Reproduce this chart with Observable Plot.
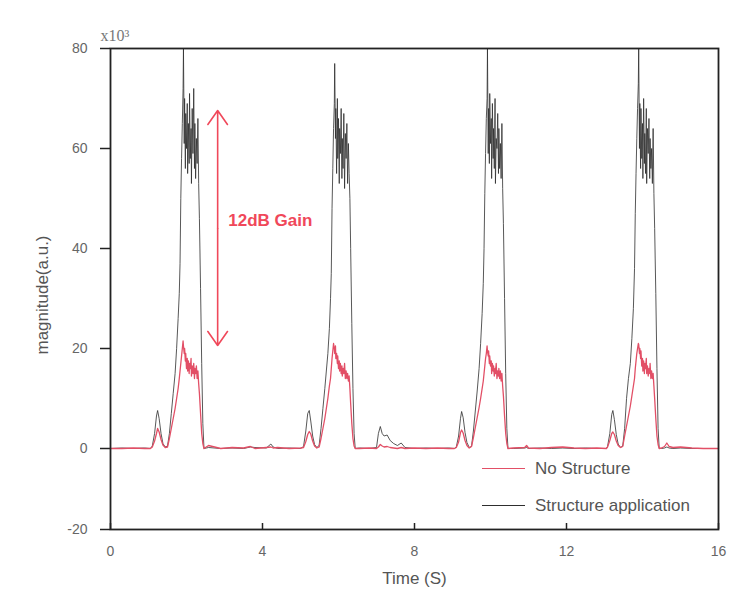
<!DOCTYPE html>
<html><head><meta charset="utf-8">
<script src="https://cdn.jsdelivr.net/npm/d3@7"></script>
<script src="https://cdn.jsdelivr.net/npm/@observablehq/plot@0.6"></script>
<style>
body{margin:0;background:#fff;}
#wrap{position:relative;width:752px;height:610px;font-family:"Liberation Sans",Arial,sans-serif;}
#legend{position:absolute;left:482px;top:450px;color:#555;font-size:17px;}
#legend .item{display:flex;align-items:center;height:37px;}
#legend .swatch{width:43px;height:0;margin-right:10px;}
</style>
</head><body>
<div id="wrap"></div>
<script>
// time (s)
const time = [
  0, 0.3, 0.6, 0.9, 1.05,
  1.10,1.16,1.21,1.24,1.28,1.33,1.38,1.44,1.50,1.55, 1.60,1.65,1.70,1.74,1.78,1.81,1.83,1.85,1.87,1.89,
  1.91,1.92,1.94,1.95,1.97,1.98,2.00,2.02,2.03,2.05, 2.07,2.08,2.10,2.12,2.13,2.15,2.17,2.19,2.21,2.22,
  2.24,2.26,2.28,2.30,2.32,2.34,2.37,2.40,2.43,2.46,
  2.58, 2.9, 3.2, 3.5, 3.68, 3.8, 4.1, 4.22, 4.28, 4.4, 4.7, 5.0,
  5.08,5.14,5.19,5.23,5.27,5.32,5.37,5.43,5.49,5.54, 5.59,5.64,5.68,5.72,5.76,5.79,5.81,5.83,5.85,5.87,
  5.89,5.90,5.92,5.93,5.95,5.97,5.98,6.00,6.02,6.03, 6.05,6.07,6.09,6.10,6.12,6.14,6.16,6.18,6.20,6.22,
  6.24,6.26,6.28,6.30,6.32,6.35,6.38,6.41,6.44,
  6.55, 6.8, 7.0, 7.05, 7.1, 7.15, 7.2, 7.28, 7.36, 7.45, 7.55, 7.65, 7.75, 8.0, 8.3, 8.6, 8.9, 9.05,
  9.10,9.16,9.21,9.24,9.28,9.33,9.38,9.44,9.50,9.55, 9.60,9.65,9.70,9.74,9.78,9.81,9.83,9.85,9.87,9.89,
  9.91,9.92,9.94,9.95,9.97,9.98,10.00,10.02,10.03,10.05, 10.07,10.08,10.10,10.12,10.13,10.15,10.17,10.19,10.21,10.22,
  10.24,10.26,10.28,10.30,10.32,10.34,10.37,10.40,10.43,10.46,
  10.6, 10.9, 10.95, 11.0, 11.3, 11.6, 11.9, 12.2, 12.5, 12.8, 13.05,
  13.08,13.14,13.19,13.22,13.26,13.31,13.36,13.42,13.48,13.53, 13.58,13.63,13.68,13.72,13.76,13.79,13.81,13.83,13.85,13.87,
  13.89,13.90,13.92,13.93,13.95,13.96,13.98,14.00,14.01,14.03, 14.05,14.06,14.08,14.10,14.11,14.13,14.15,14.17,14.19,14.20,
  14.22,14.24,14.26,14.28,14.30,14.32,14.35,14.38,14.41,14.44,
  14.5, 14.58, 14.64, 14.7, 14.8, 15.0, 15.3, 15.6, 16
];
// "Structure application" magnitude (x10^3)
const structureApp = [
  0, 0.1, 0, 0.1, 0,
  0.5,3,6.5,7.6,6,3,1,0.3,0.5,3, 7,11,15,20,26,31,37,50,58,65,
  72,80,61,70,56,67,60,69,55,65, 57,71,58,64,53,68,59,72,56,65,
  54,62,57,66,53,46,32,17,5,0,
  0.2, 0, 0.1, 0, 0.3, 0.2, 0.1, 0.9, 0.3, 0, 0.1, 0,
  0.4,3.5,7,7.6,5.5,2.5,0.8,0.2,0.6,4, 8,12,15.5,19,24,30,35,48,56,64,
  69,77,62,68,55,70,58,66,53,64, 59,68,54,62,56,67,52,63,58,65,
  53,61,55,50,40,25,12,3,0,
  0.1, 0, 0.2, 3, 4.4, 3, 2.5, 2.7, 1.6, 1, 0.6, 1.1, 0.2, 0, 0.1, 0, 0.1, 0,
  0.3,2.5,6,7.4,6.2,3.2,1.2,0.2,0.4,3.5, 7.5,11.5,16,21,27,33,40,51,59,66,
  70,80,59,68,57,71,61,66,54,69, 58,64,56,70,53,62,60,67,55,64,
  56,61,54,65,52,45,30,15,4,0,
  0, 0.1, 0.2, 0, 0.1, 0, 0.1, 0, 0.1, 0, 0,
  0.4,3,6.8,7.6,5.8,2.8,0.9,0.2,0.5,4, 10,14,17,22,28,36,47,55,62,68,
  73,80,60,69,56,68,58,65,54,70, 57,63,55,68,53,64,59,66,54,62,
  56,60,53,64,51,44,31,16,4,0,
  0, 0.1, 0.3, 0.1, 0, 0.1, 0, 0, 0
];
// "No Structure" magnitude (x10^3)
const noStructure = [
  0, 0, 0.1, 0, 0,
  0.3,1.5,3,4,3.3,1.8,0.7,0.2,0.3,2, 4,6,8,10,12,14,15.5,17,18.5,20,
  21.5,20.5,19,20,17.5,19,16,18,15.5,17.5, 15,17,16,18,14.5,16.5,15,17,14,16,
  15,16.5,14,15.5,13,11,7,3,1,0,
  0.6, 0, 0.2, 0.1, 0.4, 0, 0.2, 0.3, 0.1, 0.2, 0, 0.1,
  0.2,1.4,2.8,3.4,2.9,1.5,0.5,0.1,0.3,2, 4,6,8,10,12.5,14,16,18,19.5,21,
  20,19,20.5,18,19,17,18.5,16,17.5,15.5, 17,15,16.5,14.5,16,15,17,14,15.5,14,
  15,13.5,14.5,12,9,5,2,0.5,0,
  0, 0.1, 0, 0.3, 0.8, 0.5, 0.3, 0.4, 0.2, 0.1, 0, 0.2, 0, 0.1, 0, 0.1, 0, 0,
  0.2,1.3,3.2,3.7,3.1,1.6,0.6,0.1,0.4,2.2, 4.2,6.2,8.2,10,12,13.5,15,16.5,18,19,
  20.5,19.5,18.5,19.5,17,18.5,16.5,17.5,15,17, 15.5,16.5,14.5,16,15,17,14,15.5,14.5,16,
  14,15.5,13.5,15,12.5,10.5,6.5,3,1,0,
  0.1, 0.2, 0.6, 0.1, 0, 0.2, 0.3, 0.1, 0, 0.1, 0,
  0.3,1.6,3,3.3,2.8,1.5,0.6,0.2,0.4,2.5, 4.5,6.5,8.5,10.5,12.5,14,16,17.5,19,20,
  21,20.8,19,20,18,19.5,16.5,18,15.5,17.5, 15,17,16,18,15,16.5,14.5,16,15,17,
  14,15.5,14,15,12.5,10,6,2.5,0.8,0,
  0.1, 0.4, 1.1, 0.4, 0.2, 0.3, 0.1, 0, 0
];
const xTicks = [0, 4, 8, 12, 16];
const yTicks = [-20, 0, 20, 40, 60, 80];
const seriesNames = ["No Structure", "Structure application"];
const seriesColors = ["#e24f66", "#2e2e2e"];
// 12 dB gain annotation: arrow between the two peak levels
const gainX = 2.82, gainMid = 44, gainTop = 67.6, gainBottom = 20.6;
const gainLabel = "12dB Gain", gainLabelX = 3.1, gainLabelY = 45.6;
// the original axis is compressed below zero (the -20 tick sits closer to 0)
const negativeCompression = 0.81;

const rowsBlack = time.map((t, i) => ({t, v: structureApp[i]}));
const rowsRed = time.map((t, i) => ({t, v: noStructure[i]}));
const arrows = [{x: gainX, y1: gainMid, y2: gainTop}, {x: gainX, y1: gainMid, y2: gainBottom}];

const font = '"Liberation Sans", Arial, sans-serif';
const chart = Plot.plot({
  width: 752, height: 610,
  marginLeft: 110, marginRight: 34, marginTop: 48, marginBottom: 81,
  style: {fontFamily: font, background: "#fff", color: "#666"},
  x: {domain: [0, 16]},
  y: {domain: [-20 * negativeCompression, 80], transform: v => v < 0 ? v * negativeCompression : v},
  marks: [
    Plot.axisX({ticks: xTicks, tickSize: 0, tickPadding: 17, fontSize: 14, label: null, fill: "#666", tickFormat: d => `${d}`}),
    Plot.tickX(xTicks, {x: d => d, insetTop: 475, stroke: "#222", strokeWidth: 1.5}),
    Plot.axisY(yTicks, {tickSize: 10, tickPadding: 13, fontSize: 14, label: null, stroke: "#222", strokeWidth: 1.5, fill: "#666", tickFormat: d => `${d}`}),
    Plot.line(rowsBlack, {x: "t", y: "v", stroke: seriesColors[1], strokeWidth: 1, strokeOpacity: 0.8}),
    Plot.line(rowsRed, {x: "t", y: "v", stroke: seriesColors[0], strokeWidth: 1.3}),
    Plot.arrow(arrows, {x1: "x", x2: "x", y1: "y1", y2: "y2", stroke: "#f0485a", strokeWidth: 1.6, headLength: 16, headAngle: 70}),
    Plot.text([gainLabel], {x: gainLabelX, y: gainLabelY, text: d => d, textAnchor: "start", fill: "#f0485a", fontSize: 17, fontWeight: "bold"}),
    Plot.frame({stroke: "#222", strokeWidth: 1.8}),
    Plot.text(["Time (S)"], {frameAnchor: "bottom", dy: 49, lineAnchor: "middle", textAnchor: "middle", text: d => d, fontSize: 17, fill: "#555"}),
    Plot.text(["magnitude(a.u.)"], {frameAnchor: "left", dx: -68, dy: 6, rotate: -90, textAnchor: "middle", lineAnchor: "middle", text: d => d, fontSize: 17, fill: "#555"}),
    Plot.text(["x10³"], {frameAnchor: "top-left", dx: -10, dy: -13, textAnchor: "start", lineAnchor: "middle", text: d => d, fontSize: 16, fill: "#777", fontFamily: '"Liberation Serif", serif'})
  ]
});
const wrap = document.getElementById("wrap");
wrap.appendChild(chart);
const legend = document.createElement("div");
legend.id = "legend";
seriesNames.forEach((name, i) => {
  const item = document.createElement("div");
  item.className = "item";
  const sw = document.createElement("span");
  sw.className = "swatch";
  sw.style.borderTop = `1.5px solid ${seriesColors[i]}`;
  const label = document.createElement("span");
  label.textContent = name;
  item.appendChild(sw); item.appendChild(label);
  legend.appendChild(item);
});
wrap.appendChild(legend);
</script>
</body></html>
